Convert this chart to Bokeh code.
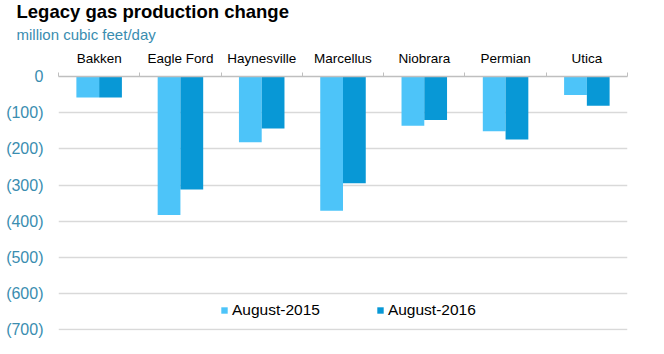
from bokeh.plotting import figure
from bokeh.models import (ColumnDataSource, FixedTicker, NumeralTickFormatter, Range1d,
                          Title, Legend, LegendItem, LinearAxis)
from bokeh.transform import dodge
from bokeh.embed import file_html
from bokeh.resources import INLINE

categories = ["Bakken", "Eagle Ford", "Haynesville", "Marcellus", "Niobrara", "Permian", "Utica"]
aug_2015 = [-58, -383, -182, -371, -136, -151, -51]
aug_2016 = [-58, -312, -144, -295, -120, -174, -81]
series_names = ["August-2015", "August-2016"]
y_ticks = [0, -100, -200, -300, -400, -500, -600, -700]

centers = [i + 0.5 for i in range(len(categories))]
bounds = list(range(len(categories) + 1))

src = ColumnDataSource(dict(x=centers, a=aug_2015, b=aug_2016))

FONT = "Liberation Sans"
C1 = "#4DC4F9"
C2 = "#0898D6"
TEAL = "#3A8DB0"

p = figure(width=664, height=354, output_backend="svg", toolbar_location=None, title=None,
           x_range=Range1d(0, len(categories)), y_range=Range1d(-702, 0),
           x_axis_location=None, y_axis_location="left",
           min_border_left=58, min_border_right=37, min_border_top=76, min_border_bottom=24)
p.outline_line_color = None
p.xgrid.visible = False
p.ygrid.ticker = FixedTicker(ticks=y_ticks)
p.ygrid.grid_line_color = "#D9D9D9"
p.ygrid.grid_line_width = 1.5

r1 = p.vbar(x=dodge("x", -0.14, range=p.x_range), top=0, bottom="a", width=0.28,
            source=src, fill_color=C1, line_color=None)
r2 = p.vbar(x=dodge("x", 0.14, range=p.x_range), top=0, bottom="b", width=0.28,
            source=src, fill_color=C2, line_color=None)

# top category axis
xa = LinearAxis(ticker=FixedTicker(ticks=centers, minor_ticks=bounds))
xa.major_label_overrides = {c: n for c, n in zip(centers, categories)}
xa.major_tick_out = 0
xa.major_tick_in = 0
xa.minor_tick_out = 4
xa.minor_tick_in = 0
xa.minor_tick_line_color = "#BFBFBF"
xa.axis_line_color = "#BFBFBF"
xa.axis_line_width = 1.5
xa.major_label_text_font = FONT
xa.major_label_text_font_size = "13.5px"
xa.major_label_text_color = "#000000"
xa.major_label_standoff = 7
p.add_layout(xa, "above")

sub = Title(text="million cubic feet/day", align="left", offset=-42,
            text_font=FONT, text_font_size="15px", text_color=TEAL,
            text_font_style="normal", standoff=9)
p.add_layout(sub, "above")
main = Title(text="Legacy gas production change", align="left", offset=-42,
             text_font=FONT, text_font_size="18.5px", text_color="#000000",
             text_font_style="bold", standoff=-5)
p.add_layout(main, "above")

ya = p.yaxis[0]
ya.ticker = FixedTicker(ticks=y_ticks)
ya.formatter = NumeralTickFormatter(format="(0)")
ya.axis_line_color = None
ya.major_tick_line_color = None
ya.minor_tick_line_color = None
ya.major_label_text_font = FONT
ya.major_label_text_font_size = "16px"
ya.major_label_text_color = TEAL
ya.major_label_standoff = 9

legend = Legend(items=[LegendItem(label=series_names[0], renderers=[r1]),
                       LegendItem(label=series_names[1], renderers=[r2])],
                orientation="horizontal", location=(162, 11),
                border_line_color=None, background_fill_alpha=0,
                glyph_width=8, glyph_height=8, label_standoff=4, spacing=56,
                padding=0, margin=0,
                label_text_font=FONT, label_text_font_size="15.5px", label_text_color="#000000")
p.add_layout(legend, "center")

open("out.html", "w").write(file_html(p, INLINE))
